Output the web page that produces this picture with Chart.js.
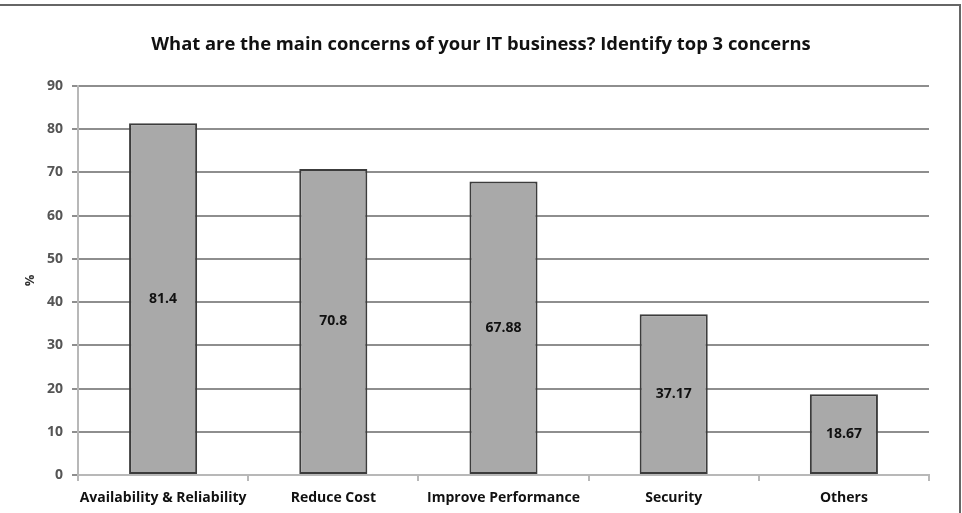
<!DOCTYPE html>
<html>
<head>
<meta charset="utf-8">
<script src="https://cdn.jsdelivr.net/npm/chart.js@4/dist/chart.umd.min.js"></script>
<style>
  html, body { margin: 0; padding: 0; background: #fff; }
  #wrap {
    position: relative;
    width: 962px;
    height: 513px;
  }
  #frame {
    position: absolute;
    left: 0;
    top: 4px;
    width: 961px;
    height: 509px;
    border-top: 2px solid #666;
    border-right: 2px solid #666;
    box-sizing: border-box;
    pointer-events: none;
  }
</style>
</head>
<body>
<div id="wrap">
  <canvas id="concernChart" width="962" height="513"></canvas>
  <div id="frame"></div>
</div>
<script>
const chartTitle = "What are the main concerns of your IT business? Identify top 3 concerns";
const categories = [
  "Availability & Reliability",
  "Reduce Cost",
  "Improve Performance",
  "Security",
  "Others",
];
const percentValues = [81.4, 70.8, 67.88, 37.17, 18.67];
const yTicks = [0, 10, 20, 30, 40, 50, 60, 70, 80, 90];

const FONT = "'Open Sans', 'Noto Sans', sans-serif";

// title centred on the whole picture, not on the plot area
const pageTitle = {
  id: "pageTitle",
  afterDraw(chart) {
    const ctx = chart.ctx;
    ctx.save();
    ctx.font = "bold 18.4px " + FONT;
    ctx.fillStyle = "#111";
    ctx.textAlign = "center";
    ctx.textBaseline = "middle";
    ctx.fillText(chartTitle, chart.width / 2, 45);
    ctx.restore();
  },
};

// value labels drawn in the middle of each bar
const barLabels = {
  id: "barLabels",
  afterDatasetsDraw(chart) {
    const ctx = chart.ctx;
    const meta = chart.getDatasetMeta(0);
    ctx.save();
    ctx.font = "bold 14px " + FONT;
    ctx.fillStyle = "#111";
    ctx.textAlign = "center";
    ctx.textBaseline = "middle";
    meta.data.forEach((bar, i) => {
      const mid = (bar.y + bar.base) / 2;
      ctx.fillText(String(percentValues[i]), bar.x, mid);
    });
    ctx.restore();
  },
};

new Chart(document.getElementById("concernChart"), {
  type: "bar",
  data: {
    labels: categories,
    datasets: [
      {
        data: percentValues,
        backgroundColor: "#a9a9a9",
        borderColor: "#3c3c3c",
        borderWidth: 2,
        borderSkipped: false,
        barPercentage: 0.4,
        categoryPercentage: 1,
      },
    ],
  },
  options: {
    responsive: false,
    animation: false,
    layout: {
      padding: { left: 0, right: 33, top: 86, bottom: 0 },
    },
    plugins: {
      legend: { display: false },
      tooltip: { enabled: false },
      title: { display: false },
    },
    scales: {
      x: {
        grid: {
          drawOnChartArea: false,
          drawTicks: true,
          tickLength: 6,
          color: "#b8b8b8",
          lineWidth: 2,
        },
        border: { color: "#b8b8b8", width: 2 },
        ticks: {
          color: "#111",
          padding: 9,
          maxRotation: 0,
          font: { family: FONT, size: 14, weight: "bold" },
        },
        afterFit(scale) {
          scale.height = 38;
        },
      },
      y: {
        min: 0,
        max: 90,
        afterBuildTicks(scale) {
          scale.ticks = yTicks.map((v) => ({ value: v }));
        },
        grid: {
          color: "#8e8e8e",
          lineWidth: 2,
          tickLength: 6,
        },
        border: { color: "#b8b8b8", width: 2 },
        ticks: {
          color: "#555",
          padding: 9,
          font: { family: FONT, size: 14, weight: "bold" },
        },
        title: {
          display: true,
          text: "%",
          color: "#333",
          padding: { top: 22, bottom: 0 },
          font: { family: FONT, size: 13, weight: "bold" },
        },
        afterFit(scale) {
          scale.width = 78;
        },
      },
    },
  },
  plugins: [barLabels, pageTitle],
});
</script>
</body>
</html>
